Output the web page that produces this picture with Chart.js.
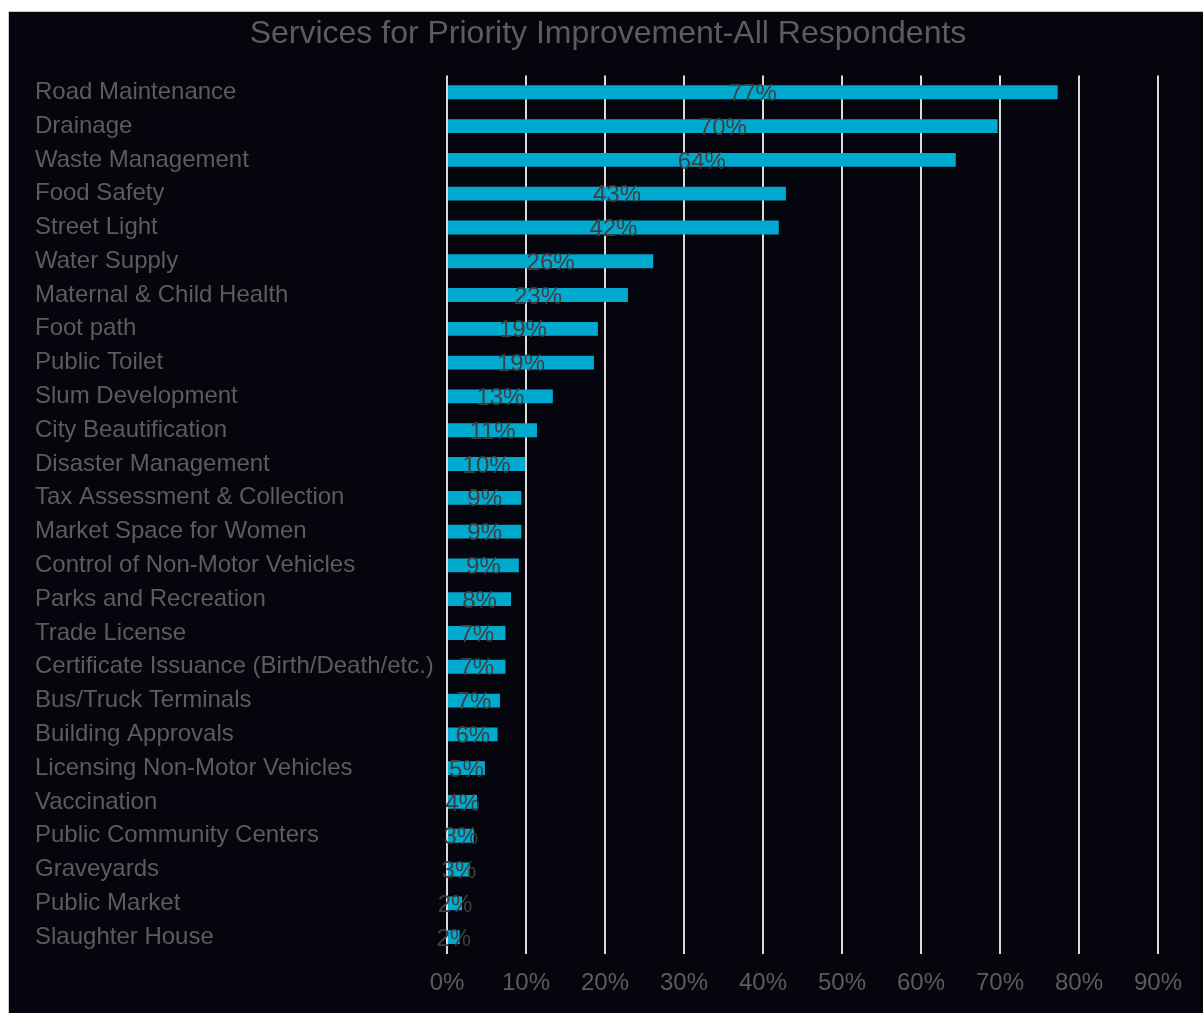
<!DOCTYPE html>
<html>
<head>
<meta charset="utf-8">
<title>Services for Priority Improvement-All Respondents</title>
<script src="https://cdn.jsdelivr.net/npm/chart.js@4/dist/chart.umd.min.js"></script>
<style>
  html, body { margin: 0; padding: 0; background: #ffffff; overflow: hidden; }
  #frame {
    position: absolute; left: 8px; top: 11px;
    width: 1194px; height: 1001px;
    background: #05050e;
    border-left: 1px solid #c9c9c9; border-top: 1px solid #c9c9c9;
  }
  #chart { display: block; }
</style>
</head>
<body>
<div id="frame"><canvas id="chart" width="1194" height="1001"></canvas></div>
<script>
// Services named by respondents, with the share of respondents (%) for each
const services = [
  "Road Maintenance", "Drainage", "Waste Management", "Food Safety", "Street Light",
  "Water Supply", "Maternal & Child Health", "Foot path", "Public Toilet",
  "Slum Development", "City Beautification", "Disaster Management",
  "Tax Assessment & Collection", "Market Space for Women",
  "Control of Non-Motor Vehicles", "Parks and Recreation", "Trade License",
  "Certificate Issuance (Birth/Death/etc.)", "Bus/Truck Terminals",
  "Building Approvals", "Licensing Non-Motor Vehicles", "Vaccination",
  "Public Community Centers", "Graveyards", "Public Market", "Slaughter House"
];
const sharePercent = [
  77.3, 69.7, 64.4, 42.9, 42.0,
  26.1, 22.9, 19.1, 18.6,
  13.4, 11.4, 9.9,
  9.4, 9.4,
  9.1, 8.1, 7.4,
  7.4, 6.7,
  6.4, 4.8, 3.8,
  3.4, 2.9, 1.9, 1.6
];
const axisTicks = [0, 10, 20, 30, 40, 50, 60, 70, 80, 90];

const textGray = "#5c5c5c";
const fontFamily = "'Liberation Sans', Arial, sans-serif";

// Writes the rounded percentage in the middle of each bar
const barValueLabels = {
  id: "barValueLabels",
  afterDatasetsDraw(chart) {
    const { ctx } = chart;
    const meta = chart.getDatasetMeta(0);
    ctx.save();
    ctx.font = "24px " + fontFamily;
    ctx.fillStyle = "#3f3f3f";
    ctx.textAlign = "center";
    ctx.textBaseline = "middle";
    meta.data.forEach((bar, i) => {
      const v = chart.data.datasets[0].data[i];
      const cx = (bar.x + bar.base) / 2;
      ctx.fillText(Math.round(v) + "%", cx, bar.y + 2);
    });
    ctx.restore();
  }
};

new Chart(document.getElementById("chart"), {
  type: "bar",
  data: {
    labels: services,
    datasets: [{
      data: sharePercent,
      backgroundColor: "#00aace",
      borderWidth: 0,
      categoryPercentage: 1,
      barPercentage: 0.41
    }]
  },
  options: {
    indexAxis: "y",
    responsive: false,
    animation: false,
    devicePixelRatio: 1,
    layout: { padding: { left: 26, right: 22, top: 0, bottom: 0 } },
    plugins: {
      legend: { display: false },
      tooltip: { enabled: false },
      title: {
        display: true,
        text: "Services for Priority Improvement-All Respondents",
        color: textGray,
        font: { family: fontFamily, size: 32, weight: "normal" },
        padding: { top: 3, bottom: 22 }
      }
    },
    scales: {
      x: {
        min: 0,
        max: 90,
        afterBuildTicks(scale) {
          scale.ticks = axisTicks.map(v => ({ value: v }));
        },
        afterFit(scale) { scale.height = 59; },
        border: { display: false },
        grid: { color: "#d9d9d9", lineWidth: 2, drawTicks: false },
        ticks: {
          padding: 15,
          color: textGray,
          font: { family: fontFamily, size: 24 },
          callback: v => v + "%"
        }
      },
      y: {
        afterFit(scale) { scale.width = 412; },
        border: { display: false },
        grid: { display: false },
        ticks: {
          crossAlign: "far",
          color: textGray,
          font: { family: fontFamily, size: 24 },
          autoSkip: false
        }
      },
      // empty right-hand margin beside the plot
      rightMargin: {
        axis: "y",
        type: "linear",
        position: "right",
        afterFit(scale) { scale.width = 23; },
        border: { display: false },
        grid: { display: false },
        ticks: { display: false }
      }
    }
  },
  plugins: [barValueLabels]
});
</script>
</body>
</html>
